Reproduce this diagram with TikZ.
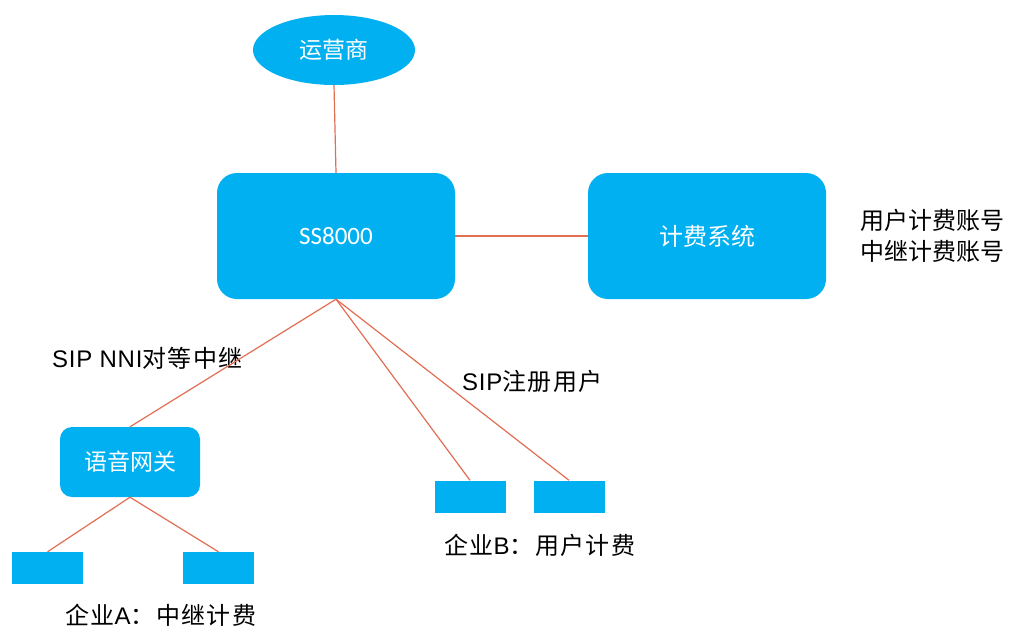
\documentclass[tikz,border=0pt]{standalone}
\usepackage{fontspec}
\setmainfont{Liberation Sans}
\newfontfamily\cjk{Noto Sans CJK SC}
\newfontfamily\cjkls[LetterSpace=6]{Noto Sans CJK SC}
\newfontfamily\latls[LetterSpace=3]{Liberation Sans}
\newfontfamily\carl{Carlito}
\usetikzlibrary{shapes.geometric}
\definecolor{boxblue}{RGB}{0,176,240}
\definecolor{linkred}{RGB}{226,110,84}
\tikzset{
  bigbox/.style={draw=none,fill=boxblue,rounded corners=20pt,minimum width=238pt,minimum height=126pt,text=white,inner sep=0pt},
  midbox/.style={draw=none,fill=boxblue,rounded corners=12pt,minimum width=140pt,minimum height=70pt,text=white,inner sep=0pt},
  leaf/.style={draw=none,fill=boxblue,minimum width=71pt,minimum height=32pt,inner sep=0pt},
  oval/.style={ellipse,draw=none,fill=boxblue,minimum width=162pt,minimum height=70pt,text=white,inner sep=0pt},
  link/.style={draw=linkred,line width=1.2pt},
  lbl/.style={text=black,inner sep=0pt,align=center},
  cjkfont/.style={font=\cjk\fontsize{23}{31}\selectfont},
  lblfont/.style={font=\cjkls\fontsize{24}{28}\selectfont},
  latfont/.style={font=\latls\fontsize{24}{28}\selectfont}
}
\begin{document}
\begin{tikzpicture}[x=1pt,y=-1pt]
\useasboundingbox[fill=white] (0,0) rectangle (1009,630);
\node[oval,cjkfont] (op) at (334,50) {运营商};
\node[bigbox,font=\carl\fontsize{25}{28}\selectfont] (ss) at (336,236) {SS8000};
\node[bigbox,font=\cjk\fontsize{24}{31}\selectfont] (bill) at (707,236) {计费系统};
\node[lbl,font=\cjk\fontsize{24}{31}\selectfont,anchor=west] (acct) at (860,236) {用户计费账号\\中继计费账号};
\node[midbox,cjkfont] (gw) at (130,462) {语音网关};
\node[leaf] (a1) at (47.5,568) {};
\node[leaf] (a2) at (218.5,568) {};
\node[leaf] (b1) at (470,496.5) {};
\node[leaf] (b2) at (569,496.5) {};
\node[lbl,latfont,anchor=west] (nni) at (52,358) {SIP NNI{\cjkls 对等中继}};
\node[lbl,latfont,anchor=west] (sipreg) at (462,381) {SIP{\cjkls 注册用户}};
\node[lbl,lblfont,anchor=west] (entb) at (444,545) {企业{\latls B}：用户计费};
\node[lbl,lblfont,anchor=west] (enta) at (65,615) {企业{\latls A}：中继计费};
\coordinate (ssb) at (ss.south);
\draw[link] (op.south) -- (ss.north);
\draw[link] (ss.east) -- (bill.west);
\draw[link] (ssb) -- (gw.north);
\draw[link] (ssb) -- (b1.north);
\draw[link] (ssb) -- (b2.north);
\draw[link] (gw.south) -- (a1.north);
\draw[link] (gw.south) -- (a2.north);
\end{tikzpicture}
\end{document}
